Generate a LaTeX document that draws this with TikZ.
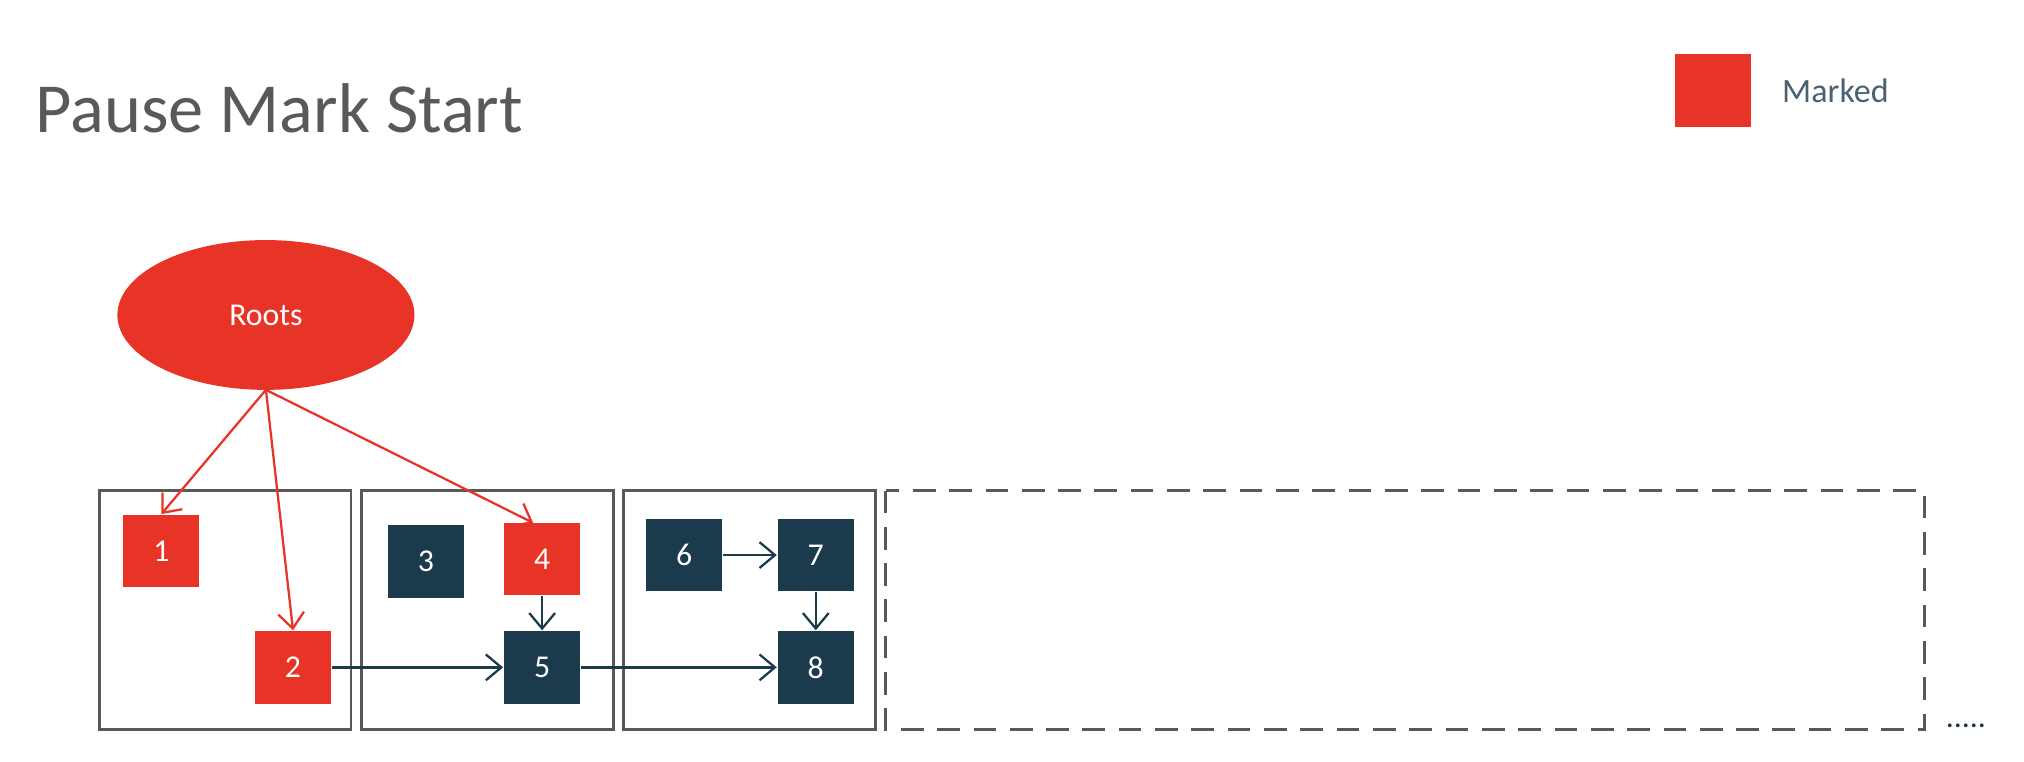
\documentclass[tikz,border=0pt]{standalone}
\usepackage{fontspec}
\setmainfont{Carlito}
\usetikzlibrary{arrows.meta,shapes.geometric}
\definecolor{mred}{HTML}{E83426}
\definecolor{mdark}{HTML}{1B3A4C}
\definecolor{mgrey}{HTML}{595959}
\begin{document}
\begin{tikzpicture}[x=0.01cm,y=-0.01cm,
  obj/.style={minimum width=0.59cm,minimum height=0.56cm,inner sep=0,text=white,font=\fontsize{7}{8}\selectfont},
  red/.style={obj,fill=mred},
  dark/.style={obj,fill=mdark},
  region/.style={draw=mgrey,line width=0.6pt},
  rarr/.style={draw=mred,line width=0.5pt,-{Straight Barb[length=1.2mm,width=2mm]}},
  darr/.style={draw=mdark,line width=0.5pt,-{Straight Barb[length=1.2mm,width=2mm]}}]
\useasboundingbox (0,0) rectangle (1568,590);
\node[anchor=base west,inner sep=0,text=mgrey,font=\fontsize{15.5}{18}\selectfont] (title) at (27,103) {Pause Mark Start};
\node[fill=mred,minimum width=0.59cm,minimum height=0.56cm,inner sep=0] (leg) at (1327,70) {};
\node[anchor=west,inner sep=0,text=mdark!80,font=\fontsize{7.5}{9}\selectfont] (legt) at (1380,70) {Marked};
\draw[region] (77,380) rectangle (272,565);
\draw[region] (280,380) rectangle (475,565);
\draw[region] (483,380) rectangle (678,565);
\draw[region,dashed,dash pattern=on 5pt off 3pt] (686,380) rectangle (1491,565);
\node[font=\fontsize{7}{8}\selectfont,text=mdark] (dots) at (1523,562) {.....};
\node[ellipse,fill=mred,minimum width=2.3cm,minimum height=1.16cm,inner sep=0,text=white,font=\fontsize{7}{8}\selectfont] (roots) at (206,244) {Roots};
\coordinate (rb) at (206,302);
\node[red] (n1) at (125,427) {1};
\node[red] (n2) at (227,517) {2};
\node[dark] (n3) at (330,435) {3};
\node[red] (n4) at (420,433) {4};
\node[dark] (n5) at (420,517) {5};
\node[dark] (n6) at (530,430) {6};
\node[dark] (n7) at (632,430) {7};
\node[dark] (n8) at (632,517) {8};
\draw[rarr] (rb) -- (n1.north);
\draw[rarr] (rb) -- (n2.north);
\draw[rarr] (rb) -- (413,405);
\draw[darr] (n2) -- (n5);
\draw[darr] (n5) -- (n8);
\draw[darr] (n4) -- (n5);
\draw[darr] (n6) -- (n7);
\draw[darr] (n7) -- (n8);
\end{tikzpicture}
\end{document}
